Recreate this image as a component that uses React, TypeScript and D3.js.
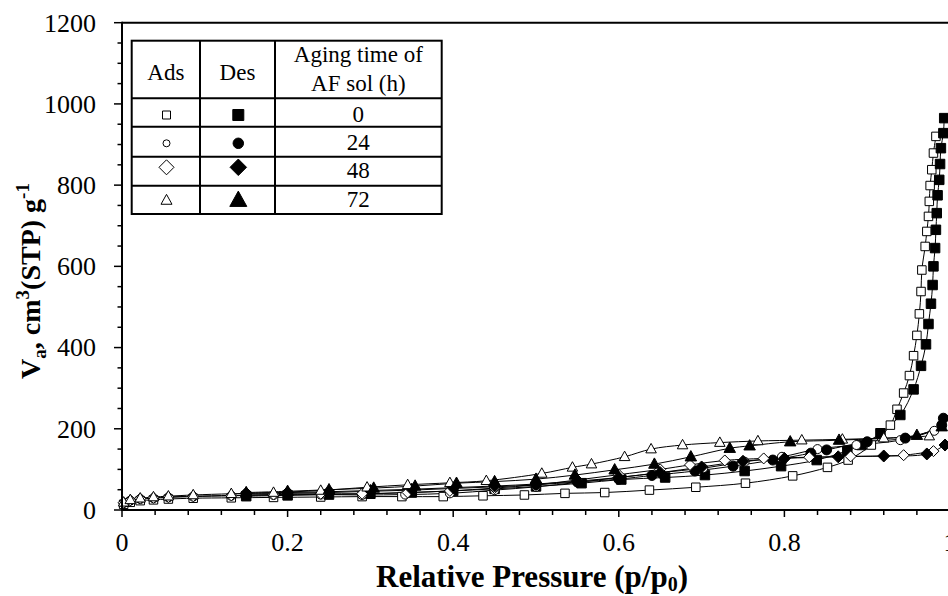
import React from 'react';
import * as d3 from 'd3';

const W = 948;
const H = 596;

// Axis ticks
const X_TICKS = [0, 0.2, 0.4, 0.6, 0.8, 1];
const X_TICK_LABELS = ['0', '0.2', '0.4', '0.6', '0.8', '1'];
const Y_TICKS = [0, 200, 400, 600, 800, 1000, 1200];
const Y_TICK_LABELS = ['0', '200', '400', '600', '800', '1000', '1200'];

// Legend rows
const AGING_TIMES = ['0', '24', '48', '72'];
const SHAPES = ['square', 'circle', 'diamond', 'triangle'];

// Sample aged 0 h
const P0_ADS = [0.002, 0.01, 0.022, 0.038, 0.056, 0.086, 0.132, 0.183, 0.24, 0.29, 0.338, 0.388, 0.436, 0.486, 0.535, 0.583, 0.637, 0.693, 0.753, 0.81, 0.852, 0.877, 0.905, 0.928, 0.936, 0.944, 0.951, 0.956, 0.96, 0.963, 0.965, 0.966, 0.97, 0.972, 0.974, 0.975, 0.976, 0.978, 0.98, 0.983];
const V0_ADS = [14, 19, 23, 25, 27, 29, 30, 31, 32, 33, 33, 33, 35, 37, 41, 43, 49, 56, 66, 84, 105, 123, 160, 209, 248, 288, 331, 380, 430, 483, 538, 591, 649, 686, 723, 760, 799, 838, 879, 920];
const P0_DES = [0.993, 0.992, 0.989, 0.988, 0.987, 0.985, 0.984, 0.983, 0.982, 0.98, 0.979, 0.977, 0.974, 0.971, 0.965, 0.956, 0.94, 0.916, 0.893, 0.876, 0.839, 0.796, 0.752, 0.704, 0.656, 0.603, 0.555, 0.5, 0.45, 0.4, 0.35, 0.3, 0.25, 0.2, 0.15];
const V0_DES = [965, 928, 891, 852, 813, 775, 731, 690, 645, 600, 554, 508, 458, 408, 355, 297, 234, 189, 160, 146, 123, 108, 96, 86, 80, 75, 66, 58, 52, 47, 43, 40, 38, 36, 34];

// Sample aged 24 h
const P24_ADS = [0.002, 0.01, 0.022, 0.038, 0.056, 0.086, 0.132, 0.183, 0.24, 0.29, 0.342, 0.396, 0.45, 0.5, 0.55, 0.6, 0.65, 0.702, 0.752, 0.797, 0.84, 0.887, 0.94, 0.981];
const V24_ADS = [17, 23, 27, 29, 31, 33, 35, 37, 38, 37, 38, 41, 49, 57, 68, 80, 92, 103, 119, 131, 150, 160, 172, 195];
const P24_DES = [0.992, 0.99, 0.946, 0.9, 0.851, 0.832, 0.786, 0.738, 0.692, 0.64, 0.6, 0.55, 0.5, 0.45, 0.4, 0.35, 0.3, 0.25, 0.2, 0.15];
const V24_DES = [226, 209, 177, 168, 148, 140, 123, 108, 96, 85, 76, 69, 62, 57, 53, 49, 46, 43, 41, 39];

// Sample aged 48 h
const P48_ADS = [0.002, 0.01, 0.022, 0.038, 0.056, 0.086, 0.132, 0.183, 0.24, 0.29, 0.345, 0.396, 0.45, 0.5, 0.55, 0.6, 0.65, 0.686, 0.728, 0.775, 0.83, 0.88, 0.944, 0.98];
const V48_ADS = [18, 24, 28, 30, 32, 34, 36, 38, 40, 40, 43, 47, 54, 62, 74, 87, 100, 111, 122, 127, 130, 132, 135, 145];
const P48_DES = [0.994, 0.972, 0.92, 0.865, 0.8, 0.75, 0.7, 0.65, 0.6, 0.55, 0.5, 0.45, 0.4, 0.35, 0.3, 0.25, 0.2, 0.15];
const V48_DES = [160, 138, 133, 131, 127, 120, 106, 92, 80, 71, 64, 59, 55, 51, 48, 45, 43, 41];

// Sample aged 72 h
const P72_ADS = [0.002, 0.01, 0.022, 0.038, 0.056, 0.086, 0.132, 0.183, 0.24, 0.296, 0.345, 0.396, 0.44, 0.507, 0.544, 0.567, 0.607, 0.639, 0.677, 0.722, 0.768, 0.821, 0.87, 0.92, 0.975];
const V72_ADS = [19, 25, 29, 32, 34, 37, 40, 43, 48, 56, 62, 67, 72, 90, 105, 113, 131, 150, 160, 166, 170, 172, 174, 177, 182];
const P72_DES = [0.99, 0.96, 0.866, 0.807, 0.758, 0.734, 0.687, 0.643, 0.595, 0.547, 0.5, 0.45, 0.404, 0.354, 0.304, 0.25, 0.2, 0.15];
const V72_DES = [205, 184, 172, 168, 158, 152, 131, 113, 99, 86, 76, 70, 66, 59, 54, 50, 46, 43];

const FONT = "'Liberation Serif', 'Times New Roman', serif";

function markerPath(shape: string, size: number): string {
  const h = size / 2;
  switch (shape) {
    case 'square':
      return `M${-h},${-h}H${h}V${h}H${-h}Z`;
    case 'circle':
      return `M${h},0A${h},${h} 0 1,1 ${-h},0A${h},${h} 0 1,1 ${h},0Z`;
    case 'diamond':
      return `M0,${-h}L${h},0L0,${h}L${-h},0Z`;
    case 'triangle': {
      const th = size * 0.9;
      return `M0,${-th * 0.6}L${h},${th * 0.4}L${-h},${th * 0.4}Z`;
    }
  }
  return '';
}

const PLOT_SIZE: Record<string, number> = { square: 8.5, circle: 9, diamond: 11, triangle: 10.5 };

export default function App() {
  const x = d3.scaleLinear().domain([0, 1]).range([122, 950]);
  const y = d3.scaleLinear().domain([0, 1200]).range([510, 22.7]);
  const line = d3
    .line<[number, number]>()
    .x((d) => x(d[0]))
    .y((d) => y(d[1]))
    .curve(d3.curveCatmullRom.alpha(0.5));

  const series = [
    { p: P0_ADS, v: V0_ADS, shape: 'square', filled: false },
    { p: P0_DES, v: V0_DES, shape: 'square', filled: true },
    { p: P24_ADS, v: V24_ADS, shape: 'circle', filled: false },
    { p: P24_DES, v: V24_DES, shape: 'circle', filled: true },
    { p: P48_ADS, v: V48_ADS, shape: 'diamond', filled: false },
    { p: P48_DES, v: V48_DES, shape: 'diamond', filled: true },
    { p: P72_ADS, v: V72_ADS, shape: 'triangle', filled: false },
    { p: P72_DES, v: V72_DES, shape: 'triangle', filled: true },
  ];

  const xMinor = d3.range(0, 26).map((i) => i * 0.04);
  const yMinor = d3.range(0, 25).map((i) => i * 50);

  const L = { x0: 131.7, x1: 200, x2: 275, x3: 441.7, y0: 40.7, rows: [98.3, 126.7, 156.7, 185.7, 214] };
  const adsSym = [
    { size: 8, cy: 115 },
    { size: 7, cy: 143.3 },
    { size: 15, cy: 167.3 },
    { size: 11, cy: 200.3 },
  ];
  const desSym = [
    { size: 11, cy: 115 },
    { size: 10.5, cy: 143.3 },
    { size: 16.5, cy: 167.3 },
    { size: 17, cy: 200.3 },
  ];
  const labelBase = [121.7, 150, 178.3, 206.7];
  const LF = 23;

  return (
    <svg
      width={W}
      height={H}
      style={{ position: 'absolute', left: 0, top: 0, background: '#fff' }}
      fontFamily={FONT}
    >
      <rect x={0} y={0} width={W} height={H} fill="#fff" />
      {series.map((s, i) => (
        <path
          key={'l' + i}
          d={line(s.p.map((p, j) => [p, s.v[j]] as [number, number])) || ''}
          fill="none"
          stroke="#000"
          strokeWidth={1}
        />
      ))}
      {series.map((s, i) => (
        <g key={'m' + i}>
          {s.p.map((p, j) => (
            <path
              key={j}
              transform={`translate(${x(p)},${y(s.v[j])})`}
              d={markerPath(s.shape, PLOT_SIZE[s.shape] + (s.filled ? 1 : 0))}
              fill={s.filled ? '#000' : '#fff'}
              stroke="#000"
              strokeWidth={1}
            />
          ))}
        </g>
      ))}

      <line x1={122} x2={950} y1={y(1200)} y2={y(1200)} stroke="#000" strokeWidth={2} />
      <line x1={122} x2={950} y1={y(0)} y2={y(0)} stroke="#000" strokeWidth={2} />
      <line x1={122} x2={122} y1={y(1200) - 1} y2={y(0) + 1} stroke="#000" strokeWidth={2} />

      {xMinor.map((t, i) => (
        <line key={'xm' + i} x1={x(t)} x2={x(t)} y1={510} y2={i % 5 === 0 ? 517 : 515} stroke="#000" strokeWidth={1.5} />
      ))}
      {X_TICKS.map((t, i) => (
        <text key={'xl' + i} x={x(t)} y={551} textAnchor="middle" fontSize={26} fill="#000">
          {X_TICK_LABELS[i]}
        </text>
      ))}
      {yMinor.map((t, i) => (
        <line key={'ym' + i} x1={i % 4 === 0 ? 114 : 117.5} x2={122} y1={y(t)} y2={y(t)} stroke="#000" strokeWidth={1.5} />
      ))}
      {Y_TICKS.map((t, i) => (
        <text key={'yl' + i} x={96} y={y(t)} dy="0.34em" textAnchor="end" fontSize={26} fill="#000">
          {Y_TICK_LABELS[i]}
        </text>
      ))}

      <text x={532} y={587} textAnchor="middle" fontSize={31} fontWeight="bold" fill="#000">
        Relative Pressure (p/p<tspan fontSize={20} dy={4}>0</tspan>
        <tspan dy={-4}>)</tspan>
      </text>
      <text
        transform={`translate(40,281) rotate(-90)`}
        textAnchor="middle"
        fontSize={28}
        fontWeight="bold"
        fill="#000"
      >
        V<tspan fontSize={19} dy={6}>a</tspan>
        <tspan dy={-6}>, cm</tspan>
        <tspan fontSize={19} dy={-11}>3</tspan>
        <tspan dy={11}>(STP) g</tspan>
        <tspan fontSize={19} dy={-11}>-1</tspan>
      </text>

      <g>
        <rect x={L.x0} y={L.y0} width={L.x3 - L.x0} height={L.rows[4] - L.y0} fill="#fff" stroke="#000" strokeWidth={2} />
        <line x1={L.x1} x2={L.x1} y1={L.y0} y2={L.rows[4]} stroke="#000" strokeWidth={2} />
        <line x1={L.x2} x2={L.x2} y1={L.y0} y2={L.rows[4]} stroke="#000" strokeWidth={2} />
        {L.rows.slice(0, 4).map((r, i) => (
          <line key={'lr' + i} x1={L.x0} x2={L.x3} y1={r} y2={r} stroke="#000" strokeWidth={2} />
        ))}
        <text x={(L.x0 + L.x1) / 2} y={80} textAnchor="middle" fontSize={LF} fill="#000">Ads</text>
        <text x={(L.x1 + L.x2) / 2} y={80} textAnchor="middle" fontSize={LF} fill="#000">Des</text>
        <text x={(L.x2 + L.x3) / 2} y={62} textAnchor="middle" fontSize={LF} fill="#000">Aging time of</text>
        <text x={(L.x2 + L.x3) / 2} y={91} textAnchor="middle" fontSize={LF} fill="#000">AF sol (h)</text>
        {SHAPES.map((sh, i) => (
          <g key={'lg' + i}>
            <path
              transform={`translate(${166.5},${adsSym[i].cy})`}
              d={markerPath(sh, adsSym[i].size)}
              fill="#fff"
              stroke="#000"
              strokeWidth={1}
            />
            <path
              transform={`translate(${238.3},${desSym[i].cy})`}
              d={markerPath(sh, desSym[i].size)}
              fill="#000"
              stroke="#000"
              strokeWidth={1}
            />
            <text x={(L.x2 + L.x3) / 2} y={labelBase[i]} textAnchor="middle" fontSize={LF} fill="#000">
              {AGING_TIMES[i]}
            </text>
          </g>
        ))}
      </g>
    </svg>
  );
}
